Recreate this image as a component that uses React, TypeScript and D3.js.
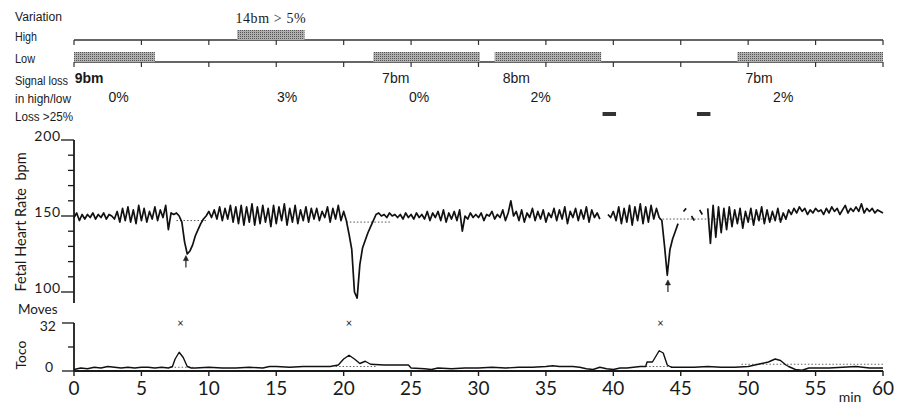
import React from "react";
import * as d3 from "d3";

const WIDTH = 903;
const HEIGHT = 405;

// FHR samples every 0.2 min, 0..60 (null = signal loss)
const FHR_STEP = 0.2;
const fhrValues: (number | null)[] = [
  149, 152, 147, 151, 148,
  151, 149, 152, 148, 151,
  149, 152, 148, 151, 150,
  148, 153, 146, 155, 147,
  156, 146, 154, 145, 157,
  147, 155, 146, 153, 148,
  156, 147, 154, 149, 157,
  141, 152, 151, 152, 150,
  146, 133, 125, 127, 131,
  137, 141, 145, 148, 150,
  153, 149, 154, 148, 156,
  147, 155, 148, 157, 146,
  156, 145, 157, 144, 156,
  146, 158, 144, 156, 145,
  157, 146, 155, 143, 157,
  145, 156, 147, 158, 144,
  155, 146, 157, 145, 154,
  147, 156, 146, 155, 148,
  155, 147, 153, 149, 156,
  146, 155, 148, 157, 147,
  153, 147, 138, 128, 100,
  96, 118, 129, 134, 139,
  143, 147, 151, 152, 150,
  151, 149, 152, 150, 151,
  149, 151, 148, 152, 149,
  151, 148, 152, 149, 151,
  148, 153, 147, 152, 149,
  153, 147, 154, 146, 152,
  148, 153, 147, 154, 140,
  150, 148, 152, 149, 151,
  149, 152, 147, 151, 150,
  153, 148, 151, 149, 154,
  147, 152, 160, 150, 153,
  147, 154, 146, 152, 149,
  155, 147, 153, 148, 154,
  146, 152, 149, 155, 147,
  154, 148, 156, 145, 153,
  149, 155, 147, 154, 148,
  156, 146, 154, 149, 152,
  148, null, null, 151, 149,
  153, 147, 156, 145, 155,
  146, 157, 144, 156, 147,
  158, 145, 156, 146, 157,
  148, 155, 149, 147, 130,
  111, 128, 135, 140, 145,
  null, 153, 155, null, 150,
  147, null, 154, 151, null,
  155, 132, 157, 136, 156,
  139, 155, 141, 156, 143,
  154, 145, 155, 142, 153,
  146, 155, 144, 154, 147,
  156, 145, 154, 146, 153,
  147, 155, 146, 152, 148,
  154, 151, 155, 152, 156,
  153, 155, 151, 154, 152,
  155, 153, 154, 151, 155,
  152, 156, 153, 155, 151,
  154, 157, 152, 155, 153,
  156, 153, 158, 152, 155,
  153, 155, 152, 154, 153,
  152,
];

// [start min, end min, bpm] dotted baseline under decelerations
const fhrBaselines: [number, number, number][] = [
  [7.6, 9.8, 147],
  [20.2, 23.5, 146],
  [43.4, 53, 148],
];

// toco trace [min, value]
const tocoPoints: [number, number][] = [
  [0, 1], [0.5, 2], [1, 1.5], [1.5, 2.5], [2, 2], [2.5, 3], [3, 2.5], [3.5, 2],
  [4, 2.5], [4.5, 2], [5, 2.5], [5.5, 2.5], [6, 2], [6.5, 2.5], [7, 2], [7.3, 3],
  [7.5, 8], [7.8, 12.5], [8.1, 9], [8.4, 3], [8.7, 2], [9, 2], [10, 2.5], [11, 2],
  [12, 2], [13, 2.5], [14, 2], [14.5, 3], [15, 3], [16, 2.5], [17, 3], [18, 3],
  [19, 3], [19.6, 4], [20, 8], [20.4, 10.5], [20.8, 8], [21.2, 5], [21.6, 6.5],
  [22, 4.5], [23, 4], [24, 4], [24.8, 4], [25, 2], [26, 1.5], [26.5, 1], [27, 2],
  [28, 1.5], [29, 2], [30, 2], [31, 2.5], [32, 2], [33, 2.5], [34, 2.5], [35, 3],
  [35.5, 3.5], [36, 3], [37, 3], [37.5, 2.5], [38, 1.5], [38.5, 1], [39, 2.5],
  [39.5, 1.5], [40, 1], [40.5, 2], [41, 2], [41.5, 2.5], [42, 3], [42.4, 3],
  [42.5, 6], [42.9, 6], [43.1, 9], [43.4, 13.5], [43.7, 12], [44, 4], [44.3, 2.5],
  [45, 2.5], [46, 2.5], [47, 3], [48, 2.5], [49, 2.5], [50, 3], [50.5, 4], [51, 5],
  [51.5, 6], [52, 8], [52.4, 7], [52.8, 4], [53, 3], [53.5, 1], [54, 0.5], [54.5, 2],
  [55, 2], [56, 2], [57, 2.5], [58, 3], [59, 2], [60, 2],
];

const tocoBaselines: [number, number, number][] = [
  [7.2, 8.8, 2.5],
  [19.4, 22.4, 3],
  [42.4, 44.4, 3],
  [49.5, 60, 4.5],
];

const movesMinutes = [7.9, 20.4, 43.5];
const arrowMarks: [number, number][] = [
  [8.3, 120],
  [44.05, 104],
];

// variation bars [start, end] in minutes
const highBars: [number, number][] = [[12.1, 17.1]];
const lowBars: [number, number][] = [
  [0, 6],
  [22.2, 30.1],
  [31.2, 39.1],
  [49.2, 60],
];
const lossMarks: [number, number][] = [
  [39.2, 40.2],
  [46.2, 47.2],
];
const beatLabels: [number, string][] = [
  [0.05, "9bm"],
  [22.85, "7bm"],
  [31.8, "8bm"],
  [49.8, "7bm"],
];
const lossLabels: [number, string][] = [
  [3.3, "0%"],
  [15.8, "3%"],
  [25.6, "0%"],
  [34.6, "2%"],
  [52.6, "2%"],
];
const highLabel: [number, string] = [14.6, "14bm > 5%"];

// row label, width in the scan
const rowLabels: [string, number][] = [
  ["Variation", 47],
  ["High", 22],
  ["Low", 20],
  ["Signal loss", 53],
  ["in high/low", 56],
  ["Loss >25%", 58],
];

const fhrMajor = [100, 150, 200];
const tocoTickLabels = [0, 32];

export default function App() {
  const x = d3.scaleLinear().domain([0, 60]).range([74, 883]);
  const yF = d3.scaleLinear().domain([100, 200]).range([292, 140]);
  const yT = d3.scaleLinear().domain([0, 32]).range([371, 323]);

  const fhrLine = d3
    .line<number | null>()
    .defined((d) => d !== null)
    .x((_, i) => x(i * FHR_STEP))
    .y((d) => yF(d as number));

  const tocoLine = d3
    .line<[number, number]>()
    .x((d) => x(d[0]))
    .y((d) => yT(d[1]));

  const xTicks = x.ticks(12);
  const fhrMinor = d3.range(100, 201, 10);

  const ink = "#1a1a1a";
  const smallFont = "'Liberation Sans', Arial, sans-serif";
  const axisFont = "Lato, 'Open Sans', sans-serif";

  const hiY = 40;
  const loY = 62;
  const rowBaselines = [21, 41, 63, 85, 103, 121];

  return (
    <svg
      width={WIDTH}
      height={HEIGHT}
      style={{ position: "absolute", left: 0, top: 0, background: "#fff" }}
    >
      <defs>
        <pattern id="stip" width="2" height="2" patternUnits="userSpaceOnUse">
          <rect width="2" height="2" fill="#b0b0b0" />
          <rect width="1" height="1" fill="#555" />
        </pattern>
      </defs>

      {/* row labels */}
      {rowLabels.map(([t, w], i) => (
        <text
          key={t}
          x={15}
          y={rowBaselines[i]}
          fontSize={12}
          textLength={w}
          lengthAdjust="spacingAndGlyphs"
          fontFamily={smallFont}
          fill={ink}
        >
          {t}
        </text>
      ))}

      {/* variation tracks */}
      {[hiY, loY].map((yy) => (
        <g key={yy}>
          <line x1={x(0)} x2={x(60)} y1={yy} y2={yy} stroke="#333" strokeWidth={1.3} />
          {xTicks.map((t) => (
            <line key={t} x1={x(t)} x2={x(t)} y1={yy} y2={yy + 5} stroke="#333" strokeWidth={1.2} />
          ))}
        </g>
      ))}
      {highBars.map(([a, b], i) => (
        <rect key={i} x={x(a)} y={hiY - 10} width={x(b) - x(a)} height={10} fill="url(#stip)" />
      ))}
      {lowBars.map(([a, b], i) => (
        <rect key={i} x={x(a)} y={loY - 10} width={x(b) - x(a)} height={10} fill="url(#stip)" />
      ))}
      <text
        x={x(highLabel[0])}
        y={23}
        textAnchor="middle"
        fontSize={14}
        letterSpacing={0.6}
        fontFamily="'Liberation Serif', 'DejaVu Serif', serif"
        fill={ink}
      >
        {highLabel[1]}
      </text>
      {beatLabels.map(([m, t], i) => (
        <text
          key={i}
          x={x(m)}
          y={83}
          fontSize={14}
          fontWeight={i === 0 ? "bold" : "normal"}
          fontFamily={smallFont}
          fill={ink}
        >
          {t}
        </text>
      ))}
      {lossLabels.map(([m, t], i) => (
        <text key={i} x={x(m)} y={102} textAnchor="middle" fontSize={14} fontFamily={smallFont} fill={ink}>
          {t}
        </text>
      ))}
      {lossMarks.map(([a, b], i) => (
        <rect key={i} x={x(a)} y={112} width={x(b) - x(a)} height={4} fill="#333" />
      ))}

      {/* FHR axis */}
      <line x1={x(0)} x2={x(0)} y1={yF(200)} y2={yF(92.8)} stroke={ink} strokeWidth={1.8} />
      {fhrMinor.map((v) => (
        <line
          key={v}
          x1={fhrMajor.includes(v) ? x(0) - 13 : x(0) - 6}
          x2={x(0)}
          y1={yF(v)}
          y2={yF(v)}
          stroke={ink}
          strokeWidth={1.3}
        />
      ))}
      {fhrMajor.map((v) => (
        <text key={v} x={61} y={yF(v) + 1} textAnchor="end" fontSize={14} letterSpacing={0.8} fontFamily={axisFont} fill={ink}>
          {v}
        </text>
      ))}
      <text
        transform={`translate(26,222) rotate(-90)`}
        textAnchor="middle"
        fontSize={14.5}
        fontFamily={axisFont}
        fill={ink}
        style={{ whiteSpace: "pre" }}
      >
        {"Fetal Heart Rate  bpm"}
      </text>

      {/* FHR trace */}
      {fhrBaselines.map(([a, b, v], i) => (
        <line key={i} x1={x(a)} x2={x(b)} y1={yF(v)} y2={yF(v)} stroke="#555" strokeWidth={1} strokeDasharray="1.5 2" />
      ))}
      <path d={fhrLine(fhrValues) ?? ""} fill="none" stroke="#111" strokeWidth={1.7} strokeLinejoin="round" />
      {arrowMarks.map(([m, v], i) => (
        <g key={i} stroke="#222" strokeWidth={1.2} fill="#222">
          <line x1={x(m)} x2={x(m)} y1={yF(v) - 3} y2={yF(v) + 6} />
          <path d={`M${x(m) - 2.5},${yF(v) - 1}L${x(m)},${yF(v) - 6}L${x(m) + 2.5},${yF(v) - 1}Z`} strokeWidth={0.6} />
        </g>
      ))}

      {/* Toco */}
      <text x={18} y={314} fontSize={13.5} fontFamily={axisFont} fill={ink}>
        Moves
      </text>
      {movesMinutes.map((m, i) => (
        <text key={i} x={x(m)} y={327} textAnchor="middle" fontSize={11} fontFamily={axisFont} fill={ink}>
          ×
        </text>
      ))}
      <line x1={x(0)} x2={x(0)} y1={yT(32)} y2={yT(0)} stroke={ink} strokeWidth={1.8} />
      <line x1={x(0) - 12} x2={x(0)} y1={yT(32)} y2={yT(32)} stroke={ink} strokeWidth={1.3} />
      <line x1={x(0) - 6} x2={x(0)} y1={yT(16)} y2={yT(16)} stroke={ink} strokeWidth={1.3} />
      <line x1={x(0) - 12} x2={x(0)} y1={yT(0)} y2={yT(0)} stroke={ink} strokeWidth={1.3} />
      {tocoTickLabels.map((v) => (
        <text
          key={v}
          x={v === 0 ? 53 : 56}
          y={v === 0 ? yT(v) + 1 : yT(v) + 8}
          textAnchor="end"
          fontSize={14}
          fontFamily={axisFont}
          fill={ink}
        >
          {v}
        </text>
      ))}
      <text transform={`translate(26,355) rotate(-90)`} textAnchor="middle" fontSize={14} fontFamily={axisFont} fill={ink}>
        Toco
      </text>
      {tocoBaselines.map(([a, b, v], i) => (
        <line key={i} x1={x(a)} x2={x(b)} y1={yT(v)} y2={yT(v)} stroke="#666" strokeWidth={1} strokeDasharray="1.5 2" />
      ))}
      <path d={tocoLine(tocoPoints) ?? ""} fill="none" stroke="#111" strokeWidth={1.4} strokeLinejoin="round" />

      {/* time axis */}
      <line x1={x(0)} x2={x(60)} y1={yT(0)} y2={yT(0)} stroke={ink} strokeWidth={1.8} />
      {xTicks.map((t) => (
        <g key={t}>
          <line x1={x(t)} x2={x(t)} y1={yT(0)} y2={yT(0) + 5} stroke={ink} strokeWidth={1.4} />
          <text x={x(t)} y={395} textAnchor="middle" fontSize={19} fontFamily={axisFont} fill={ink}>
            {t}
          </text>
        </g>
      ))}
      <text x={850} y={402} textAnchor="middle" fontSize={14} fontFamily={axisFont} fill={ink}>
        min
      </text>
    </svg>
  );
}
